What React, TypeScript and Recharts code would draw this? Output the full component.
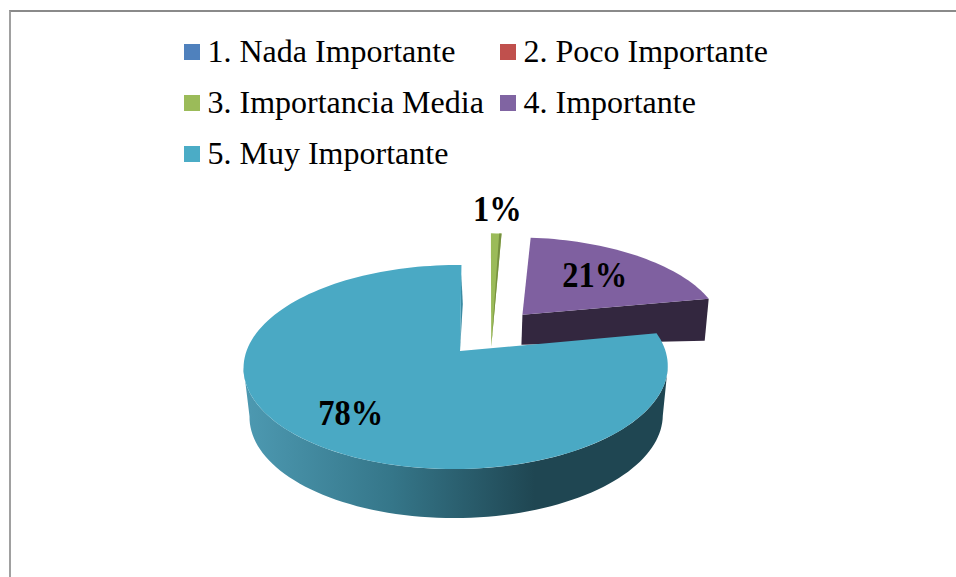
import React from "react";
import { PieChart, Pie, Legend } from "recharts";

const categories = ["1. Nada Importante", "2. Poco Importante", "3. Importancia Media", "4. Importante", "5. Muy Importante"];
const percentages = [0, 0, 1, 21, 78];
const legendColors = ["#4F81BD", "#C0504D", "#9BBB59", "#8064A2", "#4BACC6"];
const faceColors = ["#4F81BD", "#C0504D", "#9BBB59", "#7F60A0", "#4AA9C4"];

const data = categories.map((name, i) => ({ name, value: percentages[i], fill: faceColors[i] }));

// Perspective projection of the pie disc onto the page
const P = 0.157, Q = 0.019, S = 1.7, AX = 460, AY = 351, A = 209.4, B = 99.5;
const AX2 = 460.4, AY2 = 400, A2 = 204;
const w = (u: number, v: number) => 1 + P * v + Q * u;
const topPt = (u: number, v: number): [number, number] => [AX + (A * u + S * v) / w(u, v), AY - (B * v) / w(u, v)];
const bottomPt = (u: number, v: number): [number, number] => [AX2 + (A2 * u + S * v) / w(u, v), AY2 - (B * v) / w(u, v)];
const rad = (d: number) => (d * Math.PI) / 180;
const d = (pts: [number, number][]) => "M" + pts.map((p) => `${p[0].toFixed(2)},${p[1].toFixed(2)}`).join("L") + "Z";

const outerOffset: Record<string, [number, number]> = {
  "3. Importancia Media": [0.17, 0.457],
  "4. Importante": [0.34, 0.4],
  "5. Muy Importante": [0, 0],
};
const apexOffset: Record<string, [number, number]> = {
  "3. Importancia Media": [0.15, 0.04],
  "4. Importante": [0.315, 0.39],
  "5. Muy Importante": [0, 0],
};

const arc = (s: number, e: number, off: [number, number], fn = topPt) => {
  const pts: [number, number][] = [];
  const n = Math.max(2, Math.ceil((e - s) / 2));
  for (let i = 0; i <= n; i++) {
    const t = rad(s + ((e - s) * i) / n);
    pts.push(fn(off[0] + Math.sin(t), off[1] + Math.cos(t)));
  }
  return pts;
};

function Slice3D(props: any) {
  const s = 90 - props.startAngle;
  const e = 90 - props.endAngle;
  if (e - s <= 0) return null;
  const name = props.name ?? props.payload?.name;
  const off = outerOffset[name] ?? [0, 0];
  const apexO = apexOffset[name] ?? [0, 0];
  const apex = topPt(apexO[0], apexO[1]);
  const top = d([apex, ...arc(s, e, off)]);

  if (name === "3. Importancia Media") {
    return (
      <g>
        <path d={top} fill={props.fill} />
        <path d={d([apex, ...arc(e - (e - s) * 0.22, e, off)])} fill="#76903F" />
      </g>
    );
  }
  if (name === "4. Importante") {
    const outer = arc(s, e, off);
    const corner = outer[outer.length - 1];
    const depth = (u: number) => 26 + 12.2 * u;
    const cornerU = off[0] + Math.sin(rad(e));
    const wall = d([
      apex,
      corner,
      [corner[0] - 4, corner[1] + depth(cornerU)],
      [apex[0] - 1, apex[1] + depth(off[0])],
    ]);
    return (
      <g>
        <path d={wall} fill="#33273F" />
        <path d={top} fill={props.fill} />
      </g>
    );
  }
  const upper = arc(99, 261, off);
  const lower = arc(99, 261, off, bottomPt).reverse();
  const endPt = topPt(off[0] + Math.sin(rad(e)), off[1] + Math.cos(rad(e)));
  const lerp = (t: number, dx = 0): [number, number] => [apex[0] + (endPt[0] - apex[0]) * t + dx, apex[1] + (endPt[1] - apex[1]) * t];
  return (
    <g>
      <defs>
        <linearGradient id="wallGradient" gradientUnits="userSpaceOnUse" x1="250" y1="0" x2="535" y2="0">
          <stop offset="0" stopColor="#4C98B0" />
          <stop offset="0.5" stopColor="#357689" />
          <stop offset="1" stopColor="#1F4652" />
        </linearGradient>
      </defs>
      <path d={d([...upper, ...lower])} fill="url(#wallGradient)" />
      <path d={d([apex, lerp(0.9), lerp(0.55, 2)])} fill="#3A8AA2" />
      <path d={top} fill={props.fill} />
    </g>
  );
}

const labelRadius: Record<string, number> = {
  "3. Importancia Media": 1.36,
  "4. Importante": 0.6,
  "5. Muy Importante": 0.75,
};
const labelNudge: Record<string, [number, number]> = {
  "3. Importancia Media": [0.5, -2],
  "4. Importante": [-1, -2],
  "5. Muy Importante": [3, -2],
};

function SliceLabel(props: any) {
  if (!props.value) return null;
  const name = props.name ?? props.payload?.name;
  const off = outerOffset[name] ?? [0, 0];
  const r = labelRadius[name] ?? 0.7;
  const nudge = labelNudge[name] ?? [0, 0];
  const t = rad(90 - props.midAngle);
  const [x, y] = topPt(off[0] + r * Math.sin(t), off[1] + r * Math.cos(t));
  return (
    <text
      x={0}
      y={0}
      transform={`translate(${x + nudge[0]},${y + nudge[1]}) scale(1,1.08)`}
      textAnchor="middle"
      dominantBaseline="central"
      fontFamily="'Liberation Serif'"
      fontWeight="bold"
      fontSize={32.5}
      fill="#000"
    >
      {`${props.value}%`}
    </text>
  );
}

function LegendGrid() {
  return (
    <div
      style={{
        position: "absolute",
        left: 184,
        top: 26,
        display: "grid",
        gridTemplateColumns: "316px 316px",
        gridAutoRows: "51px",
        fontFamily: "'Liberation Serif'",
        fontSize: 32,
        color: "#000",
      }}
    >
      {categories.map((c, i) => (
        <div key={c} style={{ display: "flex", alignItems: "center", whiteSpace: "nowrap" }}>
          <span style={{ width: 16, height: 16, background: legendColors[i], marginRight: 7.5, flex: "none" }} />
          <span>{c}</span>
        </div>
      ))}
    </div>
  );
}

export default function App() {
  return (
    <div style={{ position: "fixed", left: 0, top: 0, width: 956, height: 577, overflow: "hidden", background: "#fff" }}>
      <div style={{ position: "absolute", left: 9, top: 10, width: 960, height: 600, borderLeft: "2px solid #A0A0A0", borderTop: "2px solid #8A8A8A", boxSizing: "border-box" }} />
      <div style={{ position: "absolute", left: 0, top: 0 }}>
        <PieChart width={956} height={577}>
          <Legend content={<LegendGrid />} wrapperStyle={{ left: 0, top: 0, width: 956, height: 0 }} />
          <Pie
            data={data}
            dataKey="value"
            nameKey="name"
            cx={460}
            cy={351}
            outerRadius={200}
            startAngle={90}
            endAngle={-270}
            stroke="none"
            isAnimationActive={false}
            shape={Slice3D}
            label={SliceLabel}
            labelLine={false}
          />
        </PieChart>
      </div>
    </div>
  );
}
